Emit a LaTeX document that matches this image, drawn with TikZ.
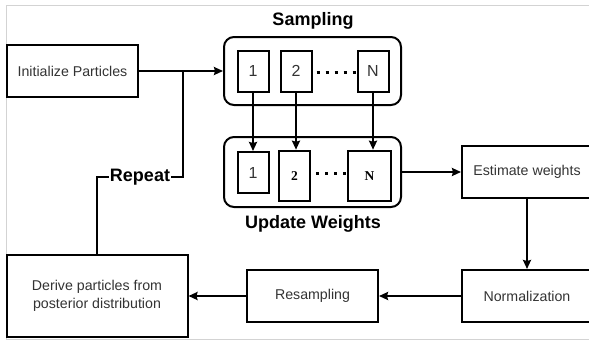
\documentclass[tikz,border=0pt]{standalone}
\usepackage{fontspec}
\setmainfont{Liberation Sans}
\newfontfamily\serifbold{Liberation Serif}
\usetikzlibrary{arrows.meta}
\definecolor{txt}{HTML}{333333}
\definecolor{frame}{HTML}{D3D3D3}
\tikzset{
  box/.style={draw=black, line width=2pt, rectangle, inner sep=0pt, align=center,
    text=txt, font=\fontsize{14.2}{17.5}\selectfont},
  cell/.style={draw=black, line width=2pt, rectangle, inner sep=0pt,
    font=\fontsize{16}{18}\selectfont, text=txt},
  thickcell/.style={draw=black, line width=2.6pt, rectangle, inner sep=0pt,
    font=\serifbold\bfseries\fontsize{13.5}{15}\selectfont, text=black},
  group/.style={draw=black, line width=2pt, rectangle, rounded corners=10pt, inner sep=0pt},
  title/.style={font=\bfseries\fontsize{18}{21}\selectfont, text=black, inner sep=1pt},
  conn/.style={line width=2pt, draw=black},
  arr/.style={conn, -{Stealth[length=9pt,width=8pt,inset=1pt]}},
  dots/.style={line width=3pt, dash pattern=on 3pt off 6pt}
}
\begin{document}
\begin{tikzpicture}[x=1pt,y=-1pt]
\useasboundingbox (0,0) rectangle (589,343);
\clip (0,0) rectangle (589,343);
% frame
\draw[frame, line width=1pt] (595,339) -- (6,339) -- (6,5) -- (595,5);
% nodes
\node[box, minimum width=131pt, minimum height=52pt] (init) at (72.5,71) {Initialize Particles};
\node[group, minimum width=177pt, minimum height=68pt] (samp) at (312.5,71) {};
\node[cell, minimum width=31pt, minimum height=41pt] (s1) at (253,71) {1};
\node[cell, minimum width=31pt, minimum height=41pt] (s2) at (296,71) {2};
\node[cell, minimum width=31pt, minimum height=41pt] (sN) at (373,71) {N};
\node[title] (samplab) at (313,21) {Sampling};
\node[group, minimum width=177pt, minimum height=70pt] (upd) at (312.5,172) {};
\node[cell, minimum width=31pt, minimum height=41pt] (u1) at (253,172.5) {1};
\node[thickcell, minimum width=31pt, minimum height=50pt] (u2) at (294.5,176) {2};
\node[thickcell, minimum width=43pt, minimum height=50pt] (uN) at (369.5,176) {N};
\node[title] (updlab) at (313,224) {Update Weights};
\node[box, minimum width=130pt, minimum height=52pt] (est) at (527,172) {Estimate weights};
\node[box, minimum width=130pt, minimum height=52pt] (norm) at (527,296) {Normalization};
\node[box, minimum width=131pt, minimum height=52pt] (res) at (312.5,296) {Resampling};
\node[box, minimum width=181pt, minimum height=82pt] (der) at (97,296) {Derive particles from\\posterior distribution};
% dots
\draw[dots, dash phase=-4pt] (s2.east |- 0,72) -- (sN.west |- 0,72);
\draw[dots, dash phase=-5pt] (u2.east |- 0,173) -- (uN.west |- 0,173);
% connectors
\coordinate (j) at (183,71);
\coordinate (r) at (183,177);
\draw[arr] (init.east) -- (samp.west);
\draw[arr] (s1.south) -- (s1.south |- u1.north);
\draw[arr] (s2.south) -- (s2.south |- u2.north);
\draw[arr] (sN.south) -- (sN.south |- uN.north);
\draw[arr] (upd.east) -- (est.west);
\draw[arr] (est.south) -- (norm.north);
\draw[arr] (norm.west) -- (res.east);
\draw[arr] (res.west) -- (der.east);
\draw[conn] (der.north) -- (der.north |- r) -- node[title, fill=white, inner sep=1pt] (replab) {Repeat} (r) -- (j);
\end{tikzpicture}
\end{document}
